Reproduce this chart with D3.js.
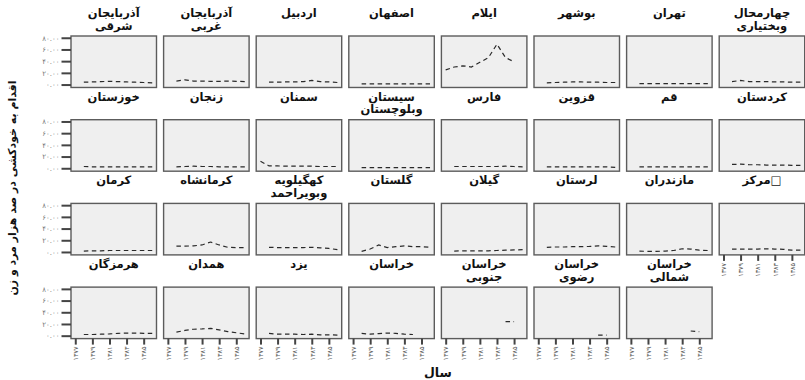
<!DOCTYPE html>
<html>
<head>
<meta charset="utf-8">
<script src="https://cdn.jsdelivr.net/npm/d3@7"></script>
<style>
  html, body { margin: 0; padding: 0; background: #fff; }
  svg { display: block; font-family: "DejaVu Sans", sans-serif; }
</style>
</head>
<body>
<svg id="chart" width="805" height="380"></svg>
<script>
// Years on the category axis (solar hijri) and the labelled ticks
const years = [1377, 1378, 1379, 1380, 1381, 1382, 1383, 1384, 1385, 1386];
const yearTicks = [1377, 1379, 1381, 1383, 1385];
const rateTicks = [0, 20, 40, 60, 80];

// Suicide attempts per 100,000 people, one series per province (null = no data)
const azSharghi      = [null, 4, 4.5, 5, 5.5, 5, 4.5, 4, 3.5, 3];
const azGharbi       = [null, 6, 8, 6, 6, 5.5, 5.5, 6, 5.5, 5];
const ardabil        = [null, 4, 4, 4.5, 4.5, 5, 7, 5, 4.5, 3.5];
const esfahan        = [null, 1, 1, 1, 1, 1, 1, 1, 1, 1];
const ilam           = [25, 30, 32, 30, 38, 46, 69, 46, 39, null];
const bushehr        = [null, 3, 3.5, 4, 4.5, 4.5, 4, 4, 3.5, 3.5];
const tehran         = [null, 1.5, 1.5, 1.5, 1.5, 1.5, 1.5, 1.5, 1.5, 1.5];
const chaharmahal    = [null, 5, 7, 5, 5, 5, 4.5, 4.5, 4, 4];
const khuzestan      = [null, 3, 2.5, 2.5, 2.5, 2.5, 2.5, 2.5, 2.5, 2.5];
const zanjan         = [null, 2.5, 3, 3.5, 3, 3, 2.5, 2.5, 2.5, 2.5];
const semnan         = [12, 4, 4, 3.5, 3.5, 3.5, 3.5, 3, 3, 3];
const sistan         = [null, 1, 1, 1, 1, 1, 1, 1, 1, 1];
const fars           = [null, 3, 3, 3, 3, 3, 3, 3.5, 3, 2.5];
const qazvin         = [null, 2.5, 2.5, 2.5, 2.5, 2.5, 2.5, 2.5, 2.5, 1.5];
const qom            = [null, 2.5, 2.5, 2.5, 2.5, 2.5, 2.5, 2.5, 2.5, 2.5];
const kordestan      = [null, 6.5, 7, 6, 6, 5.5, 5.5, 5.5, 5, 5];
const kerman         = [null, 1.5, 2, 2, 2.5, 2.5, 2.5, 2.5, 2.5, 2.5];
const kermanshah     = [null, 10, 10, 10.5, 12, 17, 12, 8, 7.5, 7.5];
const kohgiluyeh     = [null, 8, 7.5, 7.5, 7.5, 7.5, 8, 7, 6, 4];
const golestan       = [null, 1, 5, 12, 7.5, 9, 10.5, 9, 9, 8];
const gilan          = [null, 1.5, 2, 2, 2, 2, 2.5, 3, 3.5, 4];
const lorestan       = [null, 8, 8.5, 8.5, 9, 9, 9.5, 10.5, 9.5, 8.5];
const mazandaran     = [null, 1.5, 1, 1, 1.5, 2.5, 5.5, 5, 3, 2.5];
const markazi        = [null, 5, 5, 5, 5, 5.5, 5, 4.5, 3, 3];
const hormozgan      = [null, 2, 2, 2.5, 3, 4, 4.5, 4.5, 4, 4];
const hamadan        = [null, 6, 9, 11, 11.5, 12.5, 10, 7, 5, 3];
const yazd           = [null, 4, 2.5, 2.5, 2.5, 2, 2.5, 1.5, 1.5, 1];
const khorasan       = [null, 4, 2.5, 3.5, 4.5, 4, 2.5, 2, null, null];
const khorasanJonubi = [null, null, null, null, null, null, null, 24, 24, null];
const khorasanRazavi = [null, null, null, null, null, null, null, 1, 1, null];
const khorasanShomali= [null, null, null, null, null, null, null, 8, 7, null];

// Panel titles (one or two lines) in panel order
const titles = [
  ["آذربایجان", "شرقی"], ["آذربایجان", "غربی"], ["اردبیل"], ["اصفهان"],
  ["ایلام"], ["بوشهر"], ["تهران"], ["چهارمحال", "وبختیاری"],
  ["خوزستان"], ["زنجان"], ["سمنان"], ["سیستان", "وبلوچستان"],
  ["فارس"], ["قزوین"], ["قم"], ["کردستان"],
  ["کرمان"], ["کرمانشاه"], ["کهگیلویه", "وبویراحمد"], ["گلستان"],
  ["گیلان"], ["لرستان"], ["مازندران"], ["مرکز□"],
  ["هرمزگان"], ["همدان"], ["یزد"], ["خراسان"],
  ["خراسان", "جنوبی"], ["خراسان", "رضوی"], ["خراسان", "شمالی"]
];
const series = [
  azSharghi, azGharbi, ardabil, esfahan, ilam, bushehr, tehran, chaharmahal,
  khuzestan, zanjan, semnan, sistan, fars, qazvin, qom, kordestan,
  kerman, kermanshah, kohgiluyeh, golestan, gilan, lorestan, mazandaran, markazi,
  hormozgan, hamadan, yazd, khorasan, khorasanJonubi, khorasanRazavi, khorasanShomali
];

const yTitle = "اقدام به خودکشی در صد هزار مرد و زن";
const xTitle = "سال";

const faDigits = s => String(s).replace(/\d/g, d => "۰۱۲۳۴۵۶۷۸۹"[+d]);

const nCols = 8, nRows = 4;
const svg = d3.select("#chart");

const colScale = d3.scaleBand().domain(d3.range(nCols)).range([71, 804.7]).paddingInner(0.0767);
const rowScale = d3.scaleBand().domain(d3.range(nRows)).range([36, 338.6]).paddingInner(0.385);
const w = colScale.bandwidth(), h = rowScale.bandwidth();

const x = d3.scalePoint().domain(years).range([0, w]).padding(0.5);
const y = d3.scaleLinear().domain([-5, 83]).range([h, 0]);

const line = d3.line()
  .defined(d => d != null)
  .x((d, i) => x(years[i]))
  .y(d => y(d));

const nPanels = series.length;
// the lowest panel in each column carries the year axis
const lastInCol = d3.range(nCols).map(c => d3.max(d3.range(nPanels).filter(i => i % nCols === c)));

const titleStyle = sel => sel
  .attr("font-size", 11.5)
  .attr("font-weight", "bold")
  .attr("fill", "#111");

// Draws one centred title line; a trailing non-Arabic symbol run is set
// as its own text so it stays on the right of the word.
function titleLine(g, str, cx, cy) {
  const m = str.match(/^(.*[\u0600-\u06FF])([^\u0600-\u06FF]+)$/);
  if (!m) {
    g.append("text").call(titleStyle)
      .attr("x", cx).attr("y", cy).attr("text-anchor", "middle").text(str);
    return;
  }
  const word = g.append("text").call(titleStyle).attr("y", cy).text(m[1]);
  const sym = g.append("text").call(titleStyle).attr("y", cy).text(m[2]);
  const ww = word.node().getComputedTextLength();
  const sw = sym.node().getComputedTextLength();
  const x0 = cx - (ww + sw) / 2;
  word.attr("x", x0);
  sym.attr("x", x0 + ww);
}

series.forEach((vals, i) => {
  const r = Math.floor(i / nCols), c = i % nCols;
  const g = svg.append("g").attr("transform", `translate(${colScale(c)},${rowScale(r)})`);

  g.append("rect")
    .attr("width", w).attr("height", h)
    .attr("fill", "#efefef")
    .attr("stroke", "#5c5c5c").attr("stroke-width", 1.4);

  g.append("path")
    .attr("d", line(vals))
    .attr("fill", "none")
    .attr("stroke", "#2a2a2a")
    .attr("stroke-width", 1.2)
    .attr("stroke-dasharray", "4.5,3.5");

  titles[i].forEach((ln, k) => titleLine(g, ln, w / 2, -19 + k * 12.5));

  if (c === 0) {
    const ay = g.append("g").call(
      d3.axisLeft(y).tickValues(rateTicks).tickSize(9.5).tickPadding(2)
        .tickFormat(v => faDigits(v.toFixed(2)))
    );
    ay.select(".domain").remove();
    ay.selectAll("line").attr("stroke", "#444").attr("stroke-width", 2);
    ay.selectAll("text")
      .attr("font-size", 7).attr("fill", "#777")
      .attr("letter-spacing", 1.6)
      .attr("font-family", "DejaVu Sans");
  }

  if (lastInCol[c] === i) {
    const ax = g.append("g").attr("transform", `translate(0,${h})`).call(
      d3.axisBottom(x).tickValues(yearTicks).tickSize(6).tickFormat(faDigits)
    );
    ax.select(".domain").remove();
    ax.selectAll("line").attr("stroke", "#444").attr("stroke-width", 2);
    ax.selectAll("text")
      .attr("transform", "rotate(-90)")
      .attr("text-anchor", "end")
      .attr("x", -8).attr("y", 0).attr("dy", "0.35em")
      .attr("font-size", 6.5).attr("fill", "#555")
      .attr("font-family", "DejaVu Sans");
  }
});

svg.append("text")
  .attr("transform", "translate(12,188) rotate(-90)")
  .attr("text-anchor", "middle")
  .attr("dy", "0.35em")
  .attr("font-size", 11)
  .attr("font-weight", "bold")
  .attr("fill", "#111")
  .text(yTitle);

svg.append("text")
  .attr("x", (71 + 804.7) / 2)
  .attr("y", 377)
  .attr("text-anchor", "middle")
  .attr("font-size", 12.5)
  .attr("font-weight", "bold")
  .attr("fill", "#111")
  .text(xTitle);
</script>
</body>
</html>
